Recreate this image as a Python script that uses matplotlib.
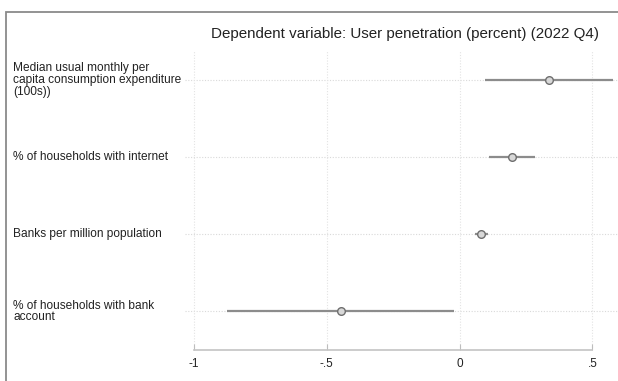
import matplotlib
matplotlib.use("Agg")
import matplotlib.pyplot as plt
import matplotlib.transforms as mtransforms
from matplotlib.patches import Rectangle

plt.rcParams['font.family'] = ['Liberation Sans', 'DejaVu Sans']

# coefficient estimates with 95% confidence bounds
labels = ["Median usual monthly per\ncapita consumption expenditure\n(100s))",
          "% of households with internet",
          "Banks per million population",
          "% of households with bank\naccount"]
coef = [0.337, 0.197, 0.082, -0.448]
ci_low = [0.094, 0.109, 0.057, -0.877]
ci_high = [0.579, 0.283, 0.107, -0.020]

xticks = [-1, -0.5, 0, 0.5]
xticklabels = ["-1", "-.5", "0", ".5"]

rows = list(range(1, len(labels) + 1))

fig = plt.figure(figsize=(6.18, 3.81), dpi=100)
ax = fig.add_axes([185 / 618, 31 / 381, 433 / 618, 299 / 381])

# grid: dotted lines through each row and each tick
for r in rows:
    ax.axhline(r, color='#d9d9d9', linestyle=(0, (1, 1.5)), linewidth=0.8, zorder=0)
for t in xticks:
    ax.axvline(t, color='#e3e3e3', linestyle=(0, (1, 1.5)), linewidth=0.8, zorder=0)

# confidence intervals and point estimates
ax.hlines(rows, ci_low, ci_high, color='#8c8c8c', linewidth=1.6, zorder=2)
ax.plot(coef, rows, 'o', markersize=5.5, markerfacecolor='#d8d8d8',
        markeredgecolor='#6e6e6e', markeredgewidth=1.0, linestyle='none', zorder=3)

ax.set_xlim(-1.034, 0.596)
ax.set_ylim(4.5, 0.62)

ax.set_xticks(xticks)
ax.set_xticklabels(xticklabels, fontsize=8.5, color='#222222')
ax.tick_params(axis='x', direction='in', length=4, color='#bdbdbd', pad=6)
ax.set_yticks([])

for side in ['top', 'right', 'left']:
    ax.spines[side].set_visible(False)
ax.spines['bottom'].set_color('#c4c4c4')
ax.spines['bottom'].set_linewidth(1.2)
ax.spines['bottom'].set_bounds(-1, 0.5)

# row labels, left aligned near the figure edge
trans = mtransforms.blended_transform_factory(fig.transFigure, ax.transData)
for r, lab in zip(rows, labels):
    ax.text(13 / 618, r, lab, transform=trans, ha='left', va='center',
            fontsize=8.6, color='#222222', linespacing=0.98)

fig.text(405 / 618, 1 - 34 / 381, "Dependent variable: User penetration (percent) (2022 Q4)",
         ha='center', va='center', fontsize=10.9, color='#222222')

# outer frame (left and top edges visible)
fig.patches.append(Rectangle((6 / 618, -0.05), 1.0, 1.05 - 12 / 381,
                             transform=fig.transFigure, fill=False,
                             edgecolor='#8a8a8a', linewidth=1.3))

fig.savefig("out.png", dpi=100)
